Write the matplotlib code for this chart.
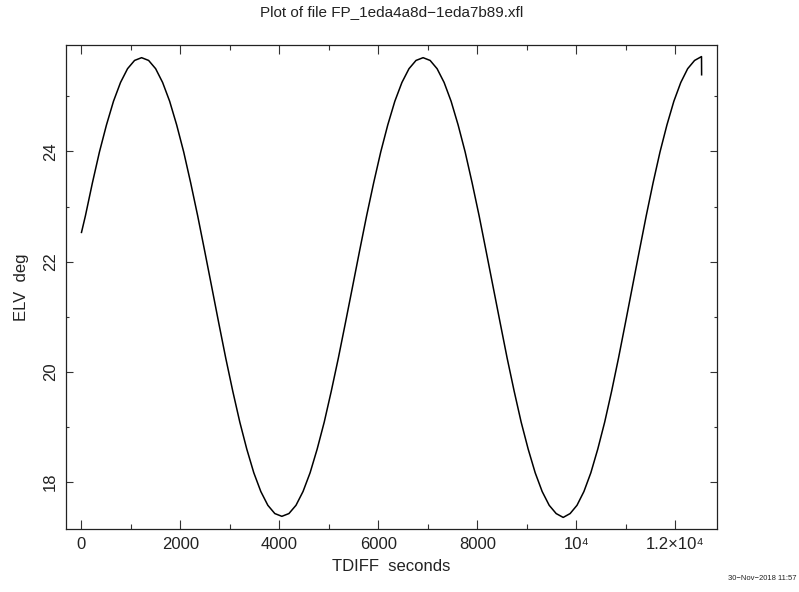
import matplotlib
matplotlib.use('Agg')
import matplotlib.pyplot as plt
from matplotlib.ticker import MultipleLocator, FixedLocator, FixedFormatter

plt.rcParams['font.family'] = ['Liberation Sans', 'DejaVu Sans']

# values
tdiff = [0, 79, 221, 363, 505, 647, 789, 931, 1073, 1215,
         1357, 1499, 1640, 1782, 1924, 2066, 2207, 2349, 2491, 2633,
         2774, 2916, 3058, 3200, 3341, 3483, 3625, 3767, 3908, 4050,
         4193, 4336, 4478, 4621, 4764, 4907, 5049, 5192, 5335, 5478,
         5620, 5763, 5906, 6049, 6191, 6334, 6477, 6620, 6762, 6905,
         7047, 7188, 7330, 7471, 7613, 7755, 7896, 8038, 8179, 8321,
         8463, 8604, 8746, 8887, 9029, 9171, 9312, 9454, 9595, 9737,
         9877, 10016, 10156, 10296, 10436, 10576, 10716, 10855, 10995, 11135,
         11275, 11415, 11554, 11694, 11834, 11974, 12114, 12253, 12393, 12533,
         12535]
elv = [22.53, 22.83, 23.43, 23.99, 24.48, 24.91, 25.25, 25.50, 25.65, 25.70,
       25.65, 25.50, 25.25, 24.91, 24.48, 23.99, 23.43, 22.83, 22.19, 21.54,
       20.89, 20.25, 19.65, 19.09, 18.60, 18.17, 17.83, 17.58, 17.43, 17.38,
       17.43, 17.58, 17.83, 18.17, 18.60, 19.09, 19.65, 20.25, 20.89, 21.54,
       22.19, 22.83, 23.43, 23.99, 24.48, 24.91, 25.25, 25.50, 25.65, 25.70,
       25.65, 25.50, 25.25, 24.91, 24.48, 23.99, 23.43, 22.83, 22.19, 21.54,
       20.89, 20.25, 19.65, 19.09, 18.60, 18.17, 17.83, 17.58, 17.43, 17.36,
       17.43, 17.58, 17.83, 18.17, 18.60, 19.09, 19.65, 20.25, 20.89, 21.54,
       22.19, 22.83, 23.43, 23.99, 24.48, 24.91, 25.25, 25.50, 25.65, 25.72,
       25.39]

xticks = [0, 2000, 4000, 6000, 8000, 10000, 12000]
xlabels = ['0', '2000', '4000', '6000', '8000', '10\u2074', '1.2\u00d710\u2074']
yticks = [18, 20, 22, 24]

fig = plt.figure(figsize=(7.99, 5.92), dpi=100)
ax = fig.add_axes([66 / 799, 1 - 529 / 592, (717 - 66) / 799, (529 - 45) / 592])

ax.plot(tdiff, elv, color='black', linewidth=1.1)

ax.set_xlim(-313, 12846)
ax.set_ylim(17.15, 25.93)

ax.xaxis.set_major_locator(FixedLocator(xticks))
ax.xaxis.set_major_formatter(FixedFormatter(xlabels))
ax.xaxis.set_minor_locator(MultipleLocator(1000))
ax.yaxis.set_major_locator(FixedLocator(yticks))
ax.yaxis.set_minor_locator(MultipleLocator(1))

ax.tick_params(which='both', direction='in', top=True, right=True,
               color='#333333', width=0.8, labelsize=12, labelcolor='#222222')
ax.tick_params(axis='x', which='major', length=6.5, pad=6)
ax.tick_params(axis='x', which='minor', length=3.5)
ax.tick_params(axis='y', which='major', length=5, pad=6)
ax.tick_params(axis='y', which='minor', length=2.5)
for lab in ax.get_yticklabels():
    lab.set_rotation(90)
    lab.set_va('center')

for s in ax.spines.values():
    s.set_linewidth(0.9)
    s.set_color('#222222')

ax.set_xlabel('TDIFF  seconds', fontsize=12, color='#222222', labelpad=5)
ax.set_ylabel('ELV  deg', fontsize=12, color='#222222', labelpad=10)

fig.text(391.5 / 799, 1 - 12 / 592, 'Plot of file FP_1eda4a8d\u22121eda7b89.xfl',
         ha='center', va='center', fontsize=11, color='#222222')
fig.text(797 / 799, 1 - 578 / 592, '30\u2212Nov\u22122018 11:57',
         ha='right', va='center', fontsize=5.5, color='#222222')

fig.savefig('out.png', dpi=100)
